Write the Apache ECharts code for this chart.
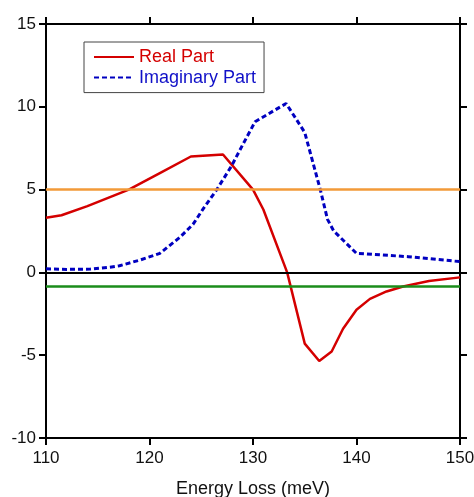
<!DOCTYPE html>
<html>
<head>
<meta charset="utf-8">
<script src="https://cdn.jsdelivr.net/npm/echarts@6/dist/echarts.min.js"></script>
<style>
html,body{margin:0;padding:0;background:#fff;}
#c{width:474px;height:497px;}
</style>
</head>
<body>
<div id="c"></div>
<script>
var realX = [110, 111.5, 114, 116, 118, 121, 124, 127.1, 130, 131, 133.3, 135, 136.4, 137.6, 138.7, 140, 141.3, 142.9, 144.5, 147, 150];
var realY = [3.3, 3.45, 4.0, 4.5, 5.0, 6.0, 7.0, 7.12, 5.0, 3.8, 0, -4.3, -5.35, -4.78, -3.4, -2.25, -1.6, -1.15, -0.85, -0.52, -0.3];
var imagX = [110, 112, 114.3, 116, 117.1, 119.1, 121, 122.9, 124.2, 125.2, 126.5, 127.9, 129, 130.2, 133.2, 135, 136.5, 137.2, 137.8, 140, 145, 150];
var imagY = [0.22, 0.18, 0.2, 0.3, 0.4, 0.75, 1.15, 2.1, 2.9, 3.85, 5.0, 6.4, 7.7, 9.1, 10.2, 8.45, 5.0, 3.2, 2.5, 1.15, 0.95, 0.65];
var refLines = [5, 0, -0.85];
var refColors = ['#f29a38', '#000000', '#1a8c1a'];
var xTicks = [110, 120, 130, 140, 150];
var yTicks = [-10, -5, 0, 5, 10, 15];

function pairs(xs, ys) { return xs.map(function (x, i) { return [x, ys[i]]; }); }

var font = '"Liberation Sans", Arial, sans-serif';
var axisCommon = {
  axisLine: { show: true, onZero: false, lineStyle: { color: '#000', width: 2 } },
  axisTick: { show: true, inside: false, length: 7, lineStyle: { color: '#000', width: 2 } },
  splitLine: { show: false }
};

var chart = echarts.init(document.getElementById('c'), null, { renderer: 'canvas' });
chart.setOption({
  animation: false,
  backgroundColor: '#fff',
  grid: { left: 46, right: 14, top: 24, bottom: 59, containLabel: false, outerBoundsMode: 'none' },
  legend: {
    orient: 'vertical',
    left: 84, top: 42,
    padding: [5, 8, 5, 9],
    borderColor: '#444', borderWidth: 1,
    itemWidth: 40, itemHeight: 14, itemGap: 0.6,
    itemStyle: { opacity: 0 },
    textStyle: { fontFamily: font, fontSize: 18, lineHeight: 20 },
    data: [
      { name: 'Real Part', textStyle: { color: '#d40000' } },
      { name: 'Imaginary Part', textStyle: { color: '#1010c8' } }
    ]
  },
  xAxis: [
    Object.assign({}, axisCommon, {
      type: 'value', position: 'bottom', min: 110, max: 150, interval: 10,
      name: 'Energy Loss (meV)', nameLocation: 'middle', nameGap: 42,
      nameTextStyle: { fontFamily: font, fontSize: 18, color: '#111' },
      axisLabel: { margin: 12, fontFamily: font, fontSize: 17, color: '#111' }
    }),
    Object.assign({}, axisCommon, {
      type: 'value', position: 'top', min: 110, max: 150, interval: 10,
      axisLabel: { show: false }
    })
  ],
  yAxis: [
    Object.assign({}, axisCommon, {
      type: 'value', position: 'left', min: -10, max: 15, interval: 5,
      axisLabel: { margin: 10, fontFamily: font, fontSize: 17, color: '#111' }
    }),
    Object.assign({}, axisCommon, {
      type: 'value', position: 'right', min: -10, max: 15, interval: 5,
      axisLabel: { show: false }
    })
  ],
  series: [
    {
      name: 'refs', type: 'line', data: [], silent: true,
      markLine: {
        silent: true, symbol: 'none', label: { show: false },
        emphasis: { disabled: true },
        data: refLines.map(function (v, i) {
          return { yAxis: v, lineStyle: { color: refColors[i], width: i === 1 ? 2 : 2.5, type: 'solid' } };
        })
      }
    },
    {
      name: 'Real Part', type: 'line', symbol: 'none', smooth: false,
      data: pairs(realX, realY),
      lineStyle: { color: '#d40000', width: 2.5 },
      itemStyle: { color: '#d40000' }
    },
    {
      name: 'Imaginary Part', type: 'line', symbol: 'none', smooth: false,
      data: pairs(imagX, imagY),
      lineStyle: { color: '#0000c0', width: 3, type: [5, 3] },
      itemStyle: { color: '#0000c0' }
    }
  ]
});
</script>
</body>
</html>
